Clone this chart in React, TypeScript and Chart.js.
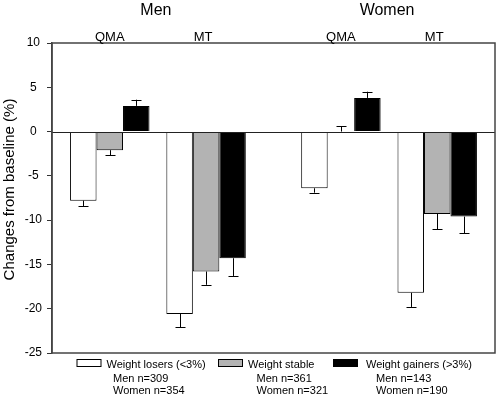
import React, { useEffect, useRef } from 'react';
import { Chart, registerables } from 'chart.js';

Chart.register(...registerables);

// ---- data ----
const GROUPS = ['Men QMA', 'Men MT', 'Women QMA', 'Women MT'];
const SEX_LABELS = ['Men', 'Women'];
const TEST_LABELS = ['QMA', 'MT', 'QMA', 'MT'];
const LOSERS = [-7.8, -20.6, -6.4, -18.2];
const LOSERS_ERR = [0.6, 1.5, 0.5, 1.6];
const STABLE = [-2.1, -15.8, 0, -9.3];
const STABLE_ERR = [0.6, 1.5, 0.6, 1.7];
const GAINERS = [2.9, -14.3, 3.8, -9.6];
const GAINERS_ERR = [0.7, 2.0, 0.7, 1.9];
const SERIES_NAMES = ['Weight losers (<3%)', 'Weight stable', 'Weight gainers (>3%)'];
const MEN_N = [309, 361, 143];
const WOMEN_N = [354, 321, 190];
const Y_TICKS = [10, 5, 0, -5, -10, -15, -20, -25];
const Y_TITLE = 'Changes from baseline (%)';

// ---- layout / style ----
const GROUP_POS = [3, 8, 15, 20];
const X_MAX = 23;
const FONT = '"Liberation Sans", Arial, sans-serif';
const COLORS = ['#ffffff', '#b3b3b3', '#000000'];
const LEGEND_BOX_X = [76.5, 218, 333];
const LEGEND_TEXT_X = [106.5, 248, 366];
const LEGEND_SUB_X = [113, 256.5, 376];

const SERIES = [LOSERS, STABLE, GAINERS];
const ERRORS = [LOSERS_ERR, STABLE_ERR, GAINERS_ERR];

const overlay = {
  id: 'overlay',
  afterDatasetsDraw(chart: any) {
    const { ctx, chartArea: a, scales } = chart;
    const y = scales.y;
    ctx.save();
    // zero line
    const y0 = Math.round(y.getPixelForValue(0)) + 0.5;
    ctx.strokeStyle = '#222';
    ctx.lineWidth = 1;
    ctx.beginPath();
    ctx.moveTo(a.left, y0);
    ctx.lineTo(a.right, y0);
    ctx.stroke();
    // error bars
    SERIES.forEach((vals, di) => {
      const meta = chart.getDatasetMeta(di);
      meta.data.forEach((bar: any, j: number) => {
        const v = vals[j];
        const sign = v >= 0 ? 1 : -1;
        const end = v + sign * ERRORS[di][j];
        const py = y.getPixelForValue(end);
        const px = Math.round(bar.x) + 0.5;
        ctx.strokeStyle = '#000';
        ctx.lineWidth = 1;
        ctx.beginPath();
        ctx.moveTo(px, bar.y);
        ctx.lineTo(px, py);
        ctx.moveTo(px - 5, Math.round(py) + 0.5);
        ctx.lineTo(px + 5, Math.round(py) + 0.5);
        ctx.stroke();
      });
    });
    ctx.restore();
  },
  afterDraw(chart: any) {
    const { ctx, chartArea: a, scales } = chart;
    const x = scales.x;
    ctx.save();
    // frame
    ctx.strokeStyle = '#444';
    ctx.lineWidth = 1.5;
    ctx.strokeRect(a.left, a.top, a.right - a.left, a.bottom - a.top);
    ctx.fillStyle = '#000';
    // headers
    ctx.textAlign = 'center';
    ctx.textBaseline = 'alphabetic';
    ctx.font = `16px ${FONT}`;
    SEX_LABELS.forEach((s, i) => {
      const cx = (x.getPixelForValue(GROUP_POS[2 * i]) + x.getPixelForValue(GROUP_POS[2 * i + 1])) / 2;
      ctx.fillText(s, cx - 2, 14.5);
    });
    ctx.font = `13px ${FONT}`;
    TEST_LABELS.forEach((t, i) => {
      ctx.fillText(t, x.getPixelForValue(GROUP_POS[i]) - (t === 'MT' ? 3 : 0), 40.5);
    });
    // y title
    ctx.save();
    ctx.translate(9.5, 189.5);
    ctx.rotate(-Math.PI / 2);
    ctx.font = `15px ${FONT}`;
    ctx.textBaseline = 'middle';
    ctx.fillText(Y_TITLE, 0, 0);
    ctx.restore();
    // legend
    ctx.textAlign = 'left';
    ctx.font = `11px ${FONT}`;
    SERIES_NAMES.forEach((name, i) => {
      ctx.fillStyle = COLORS[i];
      ctx.fillRect(LEGEND_BOX_X[i], 359, 24, 7);
      ctx.strokeStyle = '#000';
      ctx.lineWidth = 1;
      ctx.strokeRect(LEGEND_BOX_X[i] + 0.5, 359.5, 24, 7);
      ctx.fillStyle = '#000';
      ctx.fillText(name, LEGEND_TEXT_X[i], 368);
      ctx.fillText(`Men n=${MEN_N[i]}`, LEGEND_SUB_X[i], 381.5);
      ctx.fillText(`Women n=${WOMEN_N[i]}`, LEGEND_SUB_X[i], 394);
    });
    ctx.restore();
  },
};

export default function App() {
  const ref = useRef<HTMLCanvasElement>(null);
  useEffect(() => {
    if (!ref.current) return;
    const chart = new Chart(ref.current, {
      type: 'bar',
      data: {
        datasets: SERIES_NAMES.map((name, di) => ({
          label: name,
          data: GROUPS.map((g, j) => ({ x: GROUP_POS[j], y: SERIES[di][j] })),
          backgroundColor: COLORS[di],
          borderColor: '#000',
          borderWidth: 1,
          categoryPercentage: 0.825,
          barPercentage: 1,
        })),
      },
      options: {
        responsive: false,
        animation: false,
        layout: { padding: { left: 0, right: 3, top: 43, bottom: 43 } },
        plugins: { legend: { display: false }, tooltip: { enabled: false } },
        scales: {
          x: {
            type: 'linear',
            display: false,
            min: 0,
            max: X_MAX,
            offset: false,
            ticks: { stepSize: X_MAX },
          },
          y: {
            type: 'linear',
            min: -25,
            max: 10,
            afterBuildTicks: (s: any) => {
              s.ticks = Y_TICKS.map((v) => ({ value: v }));
            },
            afterFit: (s: any) => {
              s.width = 52;
            },
            ticks: {
              color: '#000',
              font: { family: FONT, size: 12 },
              padding: 5,
              crossAlign: 'center',
            },
            grid: { drawOnChartArea: false, drawTicks: true, tickLength: 5, color: '#333' },
            border: { display: true, color: '#444', width: 1.5 },
          },
        },
      },
      plugins: [overlay],
    } as any);
    return () => chart.destroy();
  }, []);
  return (
    <div style={{ position: 'fixed', left: 0, top: 0, width: 498, height: 396, background: '#fff' }}>
      <canvas ref={ref} width={498} height={396} style={{ width: 498, height: 396 }} />
    </div>
  );
}
